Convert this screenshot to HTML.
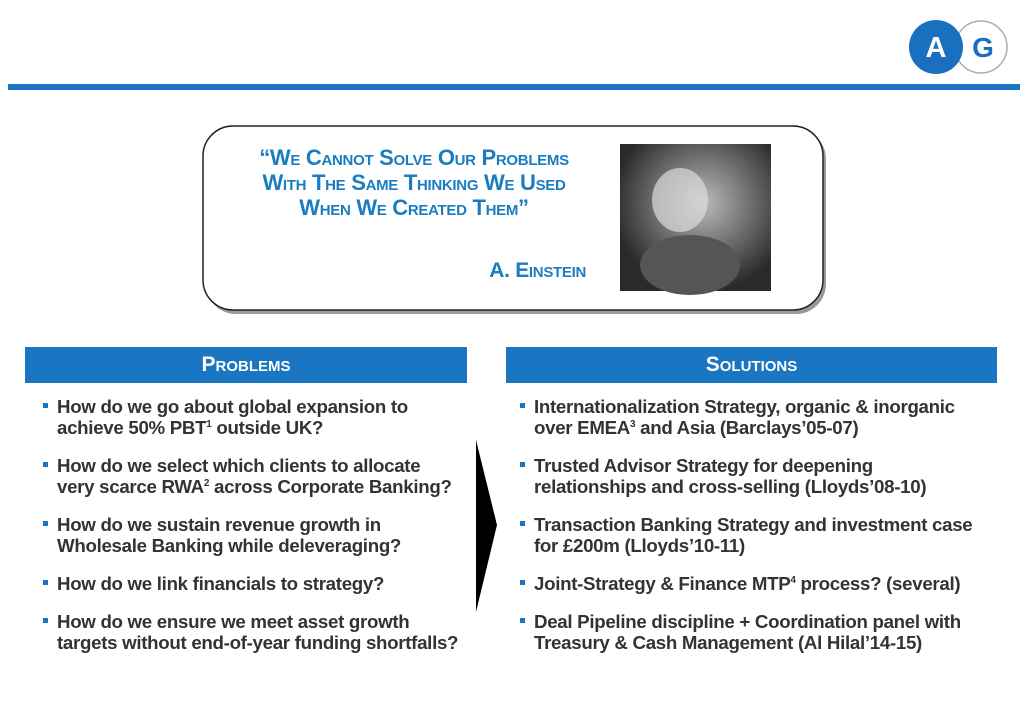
<!DOCTYPE html>
<html><head><meta charset="utf-8"><style>
body{margin:0;width:1027px;height:708px;background:#fff;position:relative;overflow:hidden;font-family:"Liberation Sans",Arial,sans-serif}
.a{position:absolute}
.q{color:#1a7cc1;font-weight:bold;font-variant:small-caps;font-size:22px;text-align:center;line-height:25px;letter-spacing:-0.3px}
.hd{background:#1a75c2;color:#fff;font-weight:bold;font-variant:small-caps;font-size:21px;text-align:center;line-height:36px;height:36px}
.it{position:absolute;font-size:18.7px;font-weight:bold;color:#333;line-height:20.5px;letter-spacing:-0.3px;white-space:nowrap}
.it:before{content:"";position:absolute;left:-14px;top:6px;width:5px;height:5px;background:#1a75c2}
sup{font-size:10px;line-height:0}
</style></head><body>
<svg class="a" style="left:0;top:0" width="1027" height="708">
<rect x="8" y="84" width="1012" height="6" fill="#1a75c2"/>
<circle cx="981" cy="47" r="26" fill="#fff" stroke="#aab" stroke-width="1.5"/>
<circle cx="936" cy="47" r="27" fill="#1a6fbf"/>
<text x="936" y="57" text-anchor="middle" font-family="Liberation Sans" font-weight="bold" font-size="29" fill="#fff">A</text>
<text x="983" y="57" text-anchor="middle" font-family="Liberation Sans" font-weight="bold" font-size="28" fill="#1a6fbf">G</text>
<rect x="206" y="129" width="620" height="185" rx="30" fill="#555" opacity="0.6"/>
<rect x="203" y="126" width="620" height="184" rx="30" fill="#fff" stroke="#222" stroke-width="1.5"/>
<defs><radialGradient id="g" cx="0.55" cy="0.4" r="0.6"><stop offset="0" stop-color="#bbb"/><stop offset="1" stop-color="#2a2a2a"/></radialGradient></defs>
<rect x="620" y="144" width="151" height="147" fill="url(#g)"/>
<ellipse cx="680" cy="200" rx="28" ry="32" fill="#ddd" opacity="0.7"/>
<ellipse cx="690" cy="265" rx="50" ry="30" fill="#555"/>
<polygon points="476,440 497,525 476,612" fill="#000"/>
</svg>
<div class="a q" style="left:214px;top:145px;width:400px">“We Cannot Solve Our Problems<br>With The Same Thinking We Used<br>When We Created Them”</div>
<div class="a q" style="left:440px;top:258px;width:146px;text-align:right;font-size:21px">A. Einstein</div>
<div class="a hd" style="left:25px;top:347px;width:442px">Problems</div>
<div class="a hd" style="left:506px;top:347px;width:491px">Solutions</div>
<div class="it" style="left:57px;top:397px">How do we go about global expansion to<br>achieve 50% PBT<sup>1</sup> outside UK?</div>
<div class="it" style="left:57px;top:456px">How do we select which clients to allocate<br>very scarce RWA<sup>2</sup> across Corporate Banking?</div>
<div class="it" style="left:57px;top:515px">How do we sustain revenue growth in<br>Wholesale Banking while deleveraging?</div>
<div class="it" style="left:57px;top:574px">How do we link financials to strategy?</div>
<div class="it" style="left:57px;top:612px">How do we ensure we meet asset growth<br>targets without end-of-year funding shortfalls?</div>
<div class="it" style="left:534px;top:397px">Internationalization Strategy, organic &amp; inorganic<br>over EMEA<sup>3</sup> and Asia (Barclays’05-07)</div>
<div class="it" style="left:534px;top:456px">Trusted Advisor Strategy for deepening<br>relationships and cross-selling (Lloyds’08-10)</div>
<div class="it" style="left:534px;top:515px">Transaction Banking Strategy and investment case<br>for £200m (Lloyds’10-11)</div>
<div class="it" style="left:534px;top:574px">Joint-Strategy &amp; Finance MTP<sup>4</sup> process? (several)</div>
<div class="it" style="left:534px;top:612px">Deal Pipeline discipline + Coordination panel with<br>Treasury &amp; Cash Management (Al Hilal’14-15)</div>
</body></html>
